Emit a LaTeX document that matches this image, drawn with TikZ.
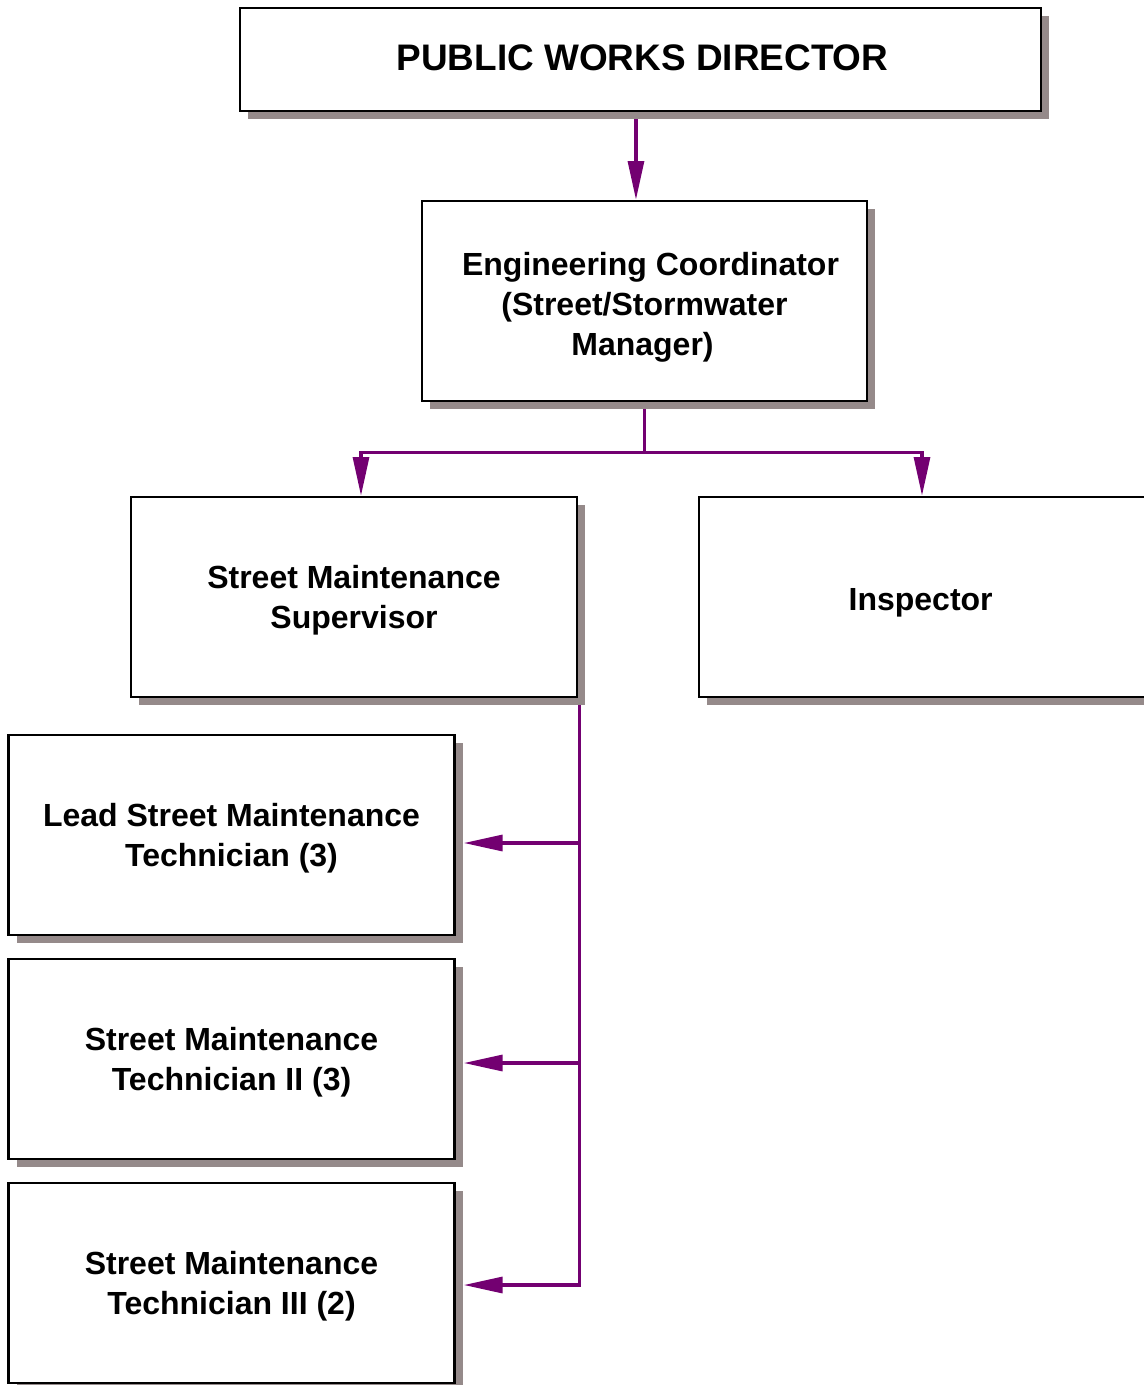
\documentclass[tikz,border=0pt]{standalone}
\usepackage{fontspec}
\setmainfont{Liberation Sans}
\usetikzlibrary{arrows.meta,shadows,backgrounds}

\definecolor{linkpurple}{RGB}{115,0,113}
\definecolor{shadowgray}{RGB}{149,138,138}

\tikzset{
  box/.style={draw=black, line width=2pt, fill=white, inner sep=0pt,
    minimum width=334.5pt, minimum height=150pt,
    drop shadow={shadow xshift=6pt, shadow yshift=-6pt, fill=shadowgray, opacity=1}},
  lbl/.style={inner sep=0pt, align=center,
    font=\fontsize{24}{30}\selectfont\bfseries},
  conn/.style={draw=linkpurple, line width=2.3pt,
    -{Triangle[length=29pt, width=12pt]}}
}

\begin{document}
\begin{tikzpicture}[x=0.75pt, y=-0.75pt]
\useasboundingbox (0,0) rectangle (1143,1385);

% boxes
\node[box, minimum width=600.75pt, minimum height=77.25pt] (dir) at (640.5,59.5) {};
\node[box, minimum width=333.75pt] (eng) at (644.5,301) {};
\node[box] (sup)   at (354,597)    {};
\node[box] (insp)  at (922,597)    {};
\node[box] (lead)  at (231.5,835)  {};
\node[box] (tech2) at (231.5,1059) {};
\node[box] (tech3) at (231.5,1283) {};

% titles
\node[lbl, font=\fontsize{27.7}{33}\selectfont\bfseries] (dirtxt)
  at ([xshift=1.5pt,yshift=1pt]dir.center) {PUBLIC WORKS DIRECTOR};
\node[lbl] (engtxt) at ([yshift=-4.5pt]eng.center)
  {\hspace*{9pt}Engineering Coordinator\\(Street/Stormwater\hspace*{6pt}\\Manager)\hspace*{3pt}};
\node[lbl] (suptxt)   at ([yshift=-2.3pt]sup.center)   {Street Maintenance\\Supervisor};
\node[lbl] (insptxt)  at ([xshift=-1pt,yshift=-4pt]insp.center) {Inspector};
\node[lbl] (leadtxt)  at ([yshift=-2.3pt]lead.center)  {Lead Street Maintenance\\Technician (3)};
\node[lbl] (tech2txt) at ([yshift=-2.3pt]tech2.center) {Street Maintenance\\Technician II (3)};
\node[lbl] (tech3txt) at ([yshift=-2.3pt]tech3.center) {Street Maintenance\\Technician III (2)};

% reporting lines
\begin{pgfonlayer}{background}
\draw[conn] ([xshift=-3.4pt]dir.south) -- ([xshift=-3.4pt]dir.south |- eng.north);
\draw[conn] (eng.south) -- ++(0,50) -| ([xshift=5.25pt]sup.north);
\draw[conn] (eng.south) -- ++(0,50) -| (insp.north);
\draw[conn] ([xshift=0.8pt]sup.south east) |- ([xshift=6pt,yshift=-6pt]lead.east);
\draw[conn] ([xshift=0.8pt]sup.south east) |- ([xshift=6pt,yshift=-3pt]tech2.east);
\draw[conn] ([xshift=0.8pt]sup.south east) |- ([xshift=6pt,yshift=-1.5pt]tech3.east);
\end{pgfonlayer}
\end{tikzpicture}
\end{document}
